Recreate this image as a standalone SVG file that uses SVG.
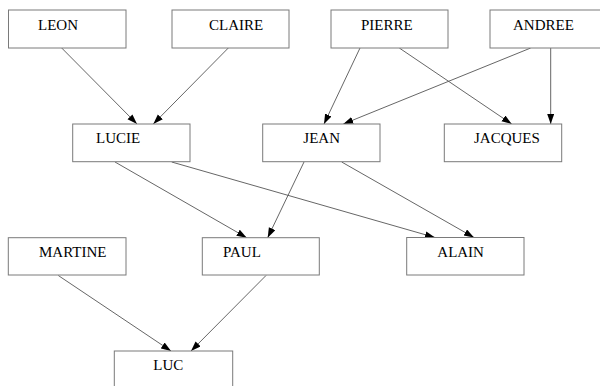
<svg xmlns="http://www.w3.org/2000/svg" width="600" height="386" viewBox="0 0 600 386">
<style>
.box{fill:#fff;stroke:#7a7a7a;stroke-width:1}
.lbl{font-family:"Liberation Serif","Times New Roman",serif;font-size:15px;fill:#000}
.edge{stroke:#555;stroke-width:0.9;fill:none;marker-end:url(#ah)}
</style>
<defs>
<marker id="ah" markerUnits="userSpaceOnUse" markerWidth="11" markerHeight="8" refX="10" refY="3.5" orient="auto">
<path d="M0,0 L10,3.5 L0,7 Z" fill="#000"/>
</marker>
</defs>
<rect width="600" height="386" fill="#fff"/>
<g id="connectors">
<line class="edge" x1="61.7" y1="48" x2="137" y2="124"/>
<line class="edge" x1="228.3" y1="48" x2="153.3" y2="124"/>
<line class="edge" x1="360" y1="48" x2="324" y2="124"/>
<line class="edge" x1="399.3" y1="48" x2="511.7" y2="124"/>
<line class="edge" x1="530.7" y1="48" x2="343.3" y2="124"/>
<line class="edge" x1="550.7" y1="48" x2="550.7" y2="124"/>
<line class="edge" x1="115" y1="162" x2="246.7" y2="237.7"/>
<line class="edge" x1="171.7" y1="162" x2="435" y2="237.5"/>
<line class="edge" x1="304" y1="162" x2="267.7" y2="237.7"/>
<line class="edge" x1="341.7" y1="162" x2="474" y2="237.5"/>
<line class="edge" x1="58.3" y1="275.5" x2="171" y2="351"/>
<line class="edge" x1="266" y1="275.5" x2="191" y2="351"/>
</g>
<g id="LEON"><rect class="box" x="8.5" y="10" width="117.5" height="38"/><text class="lbl" x="38" y="30">LEON</text></g>
<g id="CLAIRE"><rect class="box" x="172" y="10" width="117" height="38"/><text class="lbl" x="209" y="30">CLAIRE</text></g>
<g id="PIERRE"><rect class="box" x="331" y="10" width="117" height="38"/><text class="lbl" x="361" y="30">PIERRE</text></g>
<g id="ANDREE"><rect class="box" x="490" y="10" width="117" height="38"/><text class="lbl" x="513" y="30">ANDREE</text></g>
<g id="LUCIE"><rect class="box" x="72.7" y="124" width="117.3" height="37.7"/><text class="lbl" x="96" y="143.3">LUCIE</text></g>
<g id="JEAN"><rect class="box" x="262.7" y="124" width="117.3" height="37.7"/><text class="lbl" x="303.3" y="143">JEAN</text></g>
<g id="JACQUES"><rect class="box" x="444.3" y="124" width="117.4" height="37.7"/><text class="lbl" x="474" y="143.3">JACQUES</text></g>
<g id="MARTINE"><rect class="box" x="8.3" y="237.7" width="117.7" height="37.3"/><text class="lbl" x="39" y="256.7">MARTINE</text></g>
<g id="PAUL"><rect class="box" x="202.3" y="237.7" width="117" height="37.3"/><text class="lbl" x="223" y="256.7">PAUL</text></g>
<g id="ALAIN"><rect class="box" x="406.7" y="237.5" width="117.3" height="37.5"/><text class="lbl" x="437.3" y="256.5">ALAIN</text></g>
<g id="LUC"><rect class="box" x="114.3" y="351" width="118.4" height="37.7"/><text class="lbl" x="153.3" y="370">LUC</text></g>
</svg>
